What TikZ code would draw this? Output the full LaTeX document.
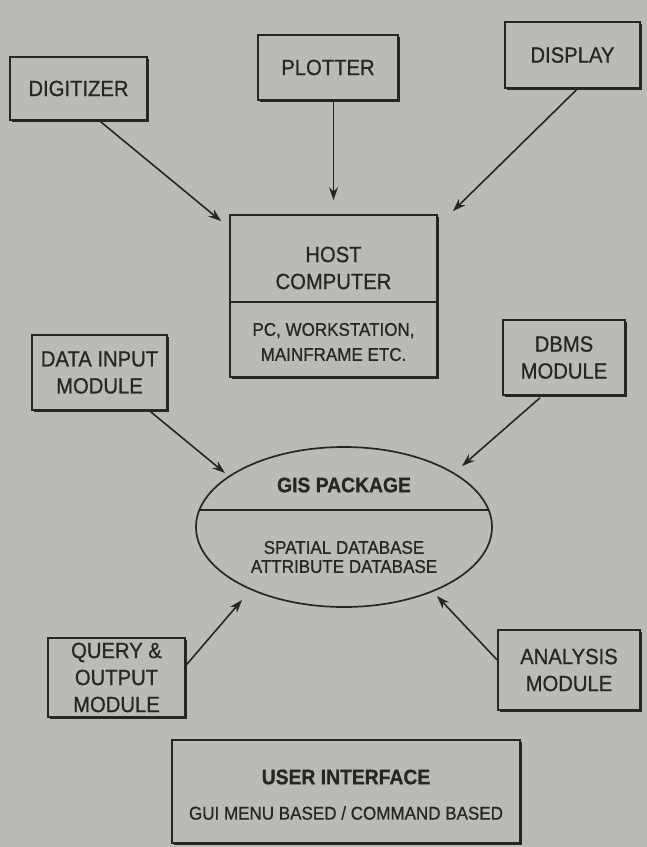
\documentclass[tikz,border=0pt]{standalone}
\usepackage{fontspec}
\setmainfont[FakeStretch=0.92,FakeBold=0.8]{Liberation Sans}
\usetikzlibrary{arrows.meta,calc,shapes.geometric,shadows}
\definecolor{paper}{HTML}{BBBBB5}
\definecolor{ink}{HTML}{262626}
\tikzset{
  box/.style={draw=ink, line width=1.6pt, fill=paper, inner sep=0pt, align=center, text=ink,
    font=\fontsize{22}{27}\selectfont,
    drop shadow={shadow xshift=2.4pt, shadow yshift=-2.4pt, fill=ink, opacity=1}},
  txt/.style={inner sep=0pt, align=center, text=ink, font=\fontsize{22}{27}\selectfont},
  small/.style={inner sep=0pt, align=center, text=ink, font=\fontsize{18.5}{25}\selectfont},
  tight/.style={inner sep=0pt, align=center, text=ink, font=\fontsize{18.5}{19}\selectfont},
  boldtxt/.style={inner sep=0pt, align=center, text=ink, font=\bfseries\fontsize{21}{25}\selectfont},
  conn/.style={draw=ink, line width=1.6pt, -{Stealth[length=13pt,width=9pt]}},
  divider/.style={draw=ink, line width=1.4pt}
}
\begin{document}
\begin{tikzpicture}[x=1pt,y=-1pt]
\fill[paper] (0,0) rectangle (647,847);
\useasboundingbox (0,0) rectangle (647,847);

% top devices
\node[box, minimum width=137pt, minimum height=63pt] (dig) at (78.5,88.5) {DIGITIZER};
\node[box, minimum width=140pt, minimum height=65pt] (plot) at (328,67.5) {PLOTTER};
\node[box, minimum width=135pt, minimum height=66pt] (disp) at (572.5,55) {DISPLAY};

% host computer
\node[box, minimum width=207pt, minimum height=162pt] (host) at (333.5,296) {};
\coordinate (hd) at (0,302);
\draw[divider] (host.west |- hd) -- (host.east |- hd);
\node[txt] (hostt) at (333.5,268) {HOST\\COMPUTER};
\node[small] (hostb) at (333.5,342) {PC, WORKSTATION,\\MAINFRAME ETC.};

% modules
\node[box, minimum width=135pt, minimum height=75pt] (din) at (99.5,372.5) {DATA INPUT\\MODULE};
\node[box, minimum width=122pt, minimum height=75pt] (dbms) at (564,357.5) {DBMS\\MODULE};

% GIS package
\node[ellipse, draw=ink, line width=1.7pt, fill=paper, minimum width=296pt, minimum height=160pt, inner sep=0pt] (gis) at (344,527) {};
\draw[divider] ($(gis.center)+(-144.6,-17)$) -- ($(gis.center)+(144.6,-17)$);
\node[boldtxt] (gist) at (344,485) {GIS PACKAGE};
\node[tight] (gisd) at (344,557) {SPATIAL DATABASE\\ATTRIBUTE DATABASE};

\node[box, minimum width=137pt, minimum height=79pt] (qry) at (116.5,677.5) {QUERY \&\\OUTPUT\\MODULE};
\node[box, minimum width=142pt, minimum height=80pt] (ana) at (569,670) {ANALYSIS\\MODULE};

% user interface
\node[box, minimum width=348pt, minimum height=103pt] (ui) at (346,791.5) {};
\node[boldtxt] (uit) at (346,777) {USER INTERFACE};
\node[small] (uis) at (346,813) {GUI MENU BASED / COMMAND BASED};

% connectors
\draw[conn] ($(dig.south)+(21,0)$) -- ($(host.north west)+(-8,7)$);
\draw[conn] (plot.south -| host.north) -- ($(host.north)+(0,-14)$);
\draw[conn] ($(disp.south)+(5,0)$) -- ($(host.north east)+(15,-3)$);
\draw[conn] ($(din.south)+(50,0)$) -- ($(gis.center)+(-119,-54)$);
\draw[conn] ($(dbms.south)+(-24,2)$) -- ($(gis.center)+(118,-61)$);
\draw[conn] ($(qry.east)+(0,-12)$) -- ($(gis.center)+(-102,73)$);
\draw[conn] ($(ana.west)+(0,-10)$) -- ($(gis.center)+(93,69)$);
\end{tikzpicture}
\end{document}
